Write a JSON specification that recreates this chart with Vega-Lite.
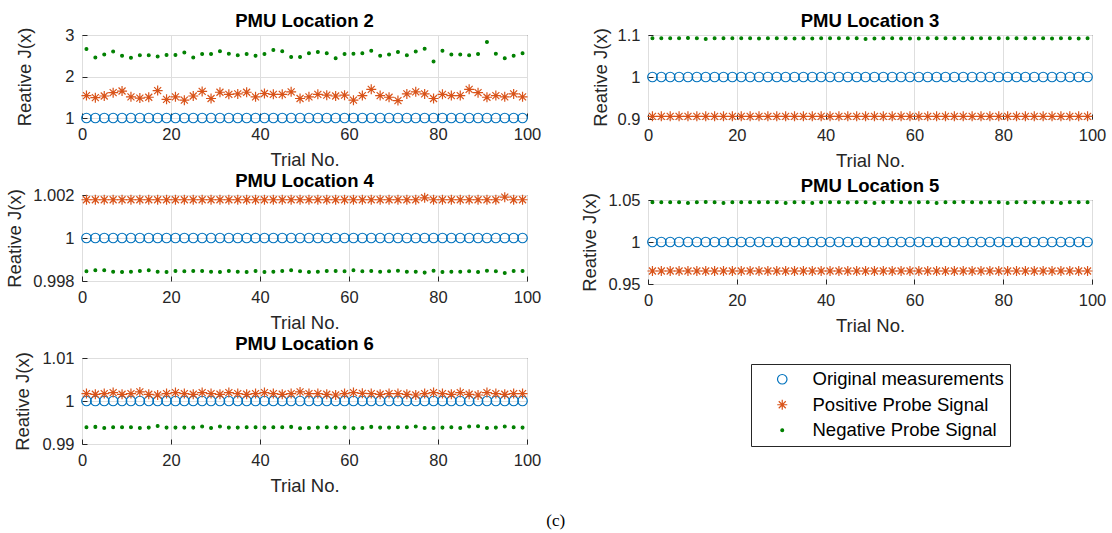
{
"$schema": "https://vega.github.io/schema/vega-lite/v6.json",
"background": "white",
"padding": {"left": 5, "top": 11, "right": 5, "bottom": 5},
"data": {"values": [
{"p":2,"t":1,"o":1,"s":1.54,"n":2.66},{"p":2,"t":3,"o":1,"s":1.49,"n":2.46},{"p":2,"t":5,"o":1,"s":1.53,"n":2.53},{"p":2,"t":7,"o":1,"s":1.61,"n":2.60},{"p":2,"t":9,"o":1,"s":1.65,"n":2.50},
{"p":2,"t":11,"o":1,"s":1.51,"n":2.45},{"p":2,"t":13,"o":1,"s":1.48,"n":2.51},{"p":2,"t":15,"o":1,"s":1.50,"n":2.51},{"p":2,"t":17,"o":1,"s":1.66,"n":2.48},{"p":2,"t":19,"o":1,"s":1.45,"n":2.52},
{"p":2,"t":21,"o":1,"s":1.51,"n":2.52},{"p":2,"t":23,"o":1,"s":1.43,"n":2.58},{"p":2,"t":25,"o":1,"s":1.53,"n":2.46},{"p":2,"t":27,"o":1,"s":1.64,"n":2.54},{"p":2,"t":29,"o":1,"s":1.47,"n":2.54},
{"p":2,"t":31,"o":1,"s":1.62,"n":2.61},{"p":2,"t":33,"o":1,"s":1.57,"n":2.55},{"p":2,"t":35,"o":1,"s":1.58,"n":2.51},{"p":2,"t":37,"o":1,"s":1.62,"n":2.54},{"p":2,"t":39,"o":1,"s":1.51,"n":2.50},
{"p":2,"t":41,"o":1,"s":1.59,"n":2.54},{"p":2,"t":43,"o":1,"s":1.57,"n":2.64},{"p":2,"t":45,"o":1,"s":1.57,"n":2.61},{"p":2,"t":47,"o":1,"s":1.63,"n":2.47},{"p":2,"t":49,"o":1,"s":1.47,"n":2.47},
{"p":2,"t":51,"o":1,"s":1.51,"n":2.56},{"p":2,"t":53,"o":1,"s":1.57,"n":2.59},{"p":2,"t":55,"o":1,"s":1.55,"n":2.56},{"p":2,"t":57,"o":1,"s":1.53,"n":2.44},{"p":2,"t":59,"o":1,"s":1.55,"n":2.54},
{"p":2,"t":61,"o":1,"s":1.43,"n":2.55},{"p":2,"t":63,"o":1,"s":1.54,"n":2.56},{"p":2,"t":65,"o":1,"s":1.69,"n":2.62},{"p":2,"t":67,"o":1,"s":1.54,"n":2.50},{"p":2,"t":69,"o":1,"s":1.50,"n":2.53},
{"p":2,"t":71,"o":1,"s":1.42,"n":2.59},{"p":2,"t":73,"o":1,"s":1.58,"n":2.51},{"p":2,"t":75,"o":1,"s":1.63,"n":2.60},{"p":2,"t":77,"o":1,"s":1.58,"n":2.67},{"p":2,"t":79,"o":1,"s":1.47,"n":2.36},
{"p":2,"t":81,"o":1,"s":1.57,"n":2.62},{"p":2,"t":83,"o":1,"s":1.54,"n":2.53},{"p":2,"t":85,"o":1,"s":1.54,"n":2.53},{"p":2,"t":87,"o":1,"s":1.69,"n":2.51},{"p":2,"t":89,"o":1,"s":1.61,"n":2.54},
{"p":2,"t":91,"o":1,"s":1.50,"n":2.83},{"p":2,"t":93,"o":1,"s":1.54,"n":2.55},{"p":2,"t":95,"o":1,"s":1.51,"n":2.44},{"p":2,"t":97,"o":1,"s":1.58,"n":2.50},{"p":2,"t":99,"o":1,"s":1.51,"n":2.56},
{"p":3,"t":1,"o":1,"s":0.9064,"n":1.092},{"p":3,"t":3,"o":1,"s":0.9064,"n":1.092},{"p":3,"t":5,"o":1,"s":0.9064,"n":1.092},{"p":3,"t":7,"o":1,"s":0.9064,"n":1.092},{"p":3,"t":9,"o":1,"s":0.9064,"n":1.0928},
{"p":3,"t":11,"o":1,"s":0.9064,"n":1.092},{"p":3,"t":13,"o":1,"s":0.9064,"n":1.0907},{"p":3,"t":15,"o":1,"s":0.9064,"n":1.092},{"p":3,"t":17,"o":1,"s":0.9064,"n":1.0924},{"p":3,"t":19,"o":1,"s":0.9064,"n":1.092},
{"p":3,"t":21,"o":1,"s":0.9064,"n":1.092},{"p":3,"t":23,"o":1,"s":0.9064,"n":1.092},{"p":3,"t":25,"o":1,"s":0.9064,"n":1.0916},{"p":3,"t":27,"o":1,"s":0.9064,"n":1.092},{"p":3,"t":29,"o":1,"s":0.9064,"n":1.092},
{"p":3,"t":31,"o":1,"s":0.9064,"n":1.092},{"p":3,"t":33,"o":1,"s":0.9064,"n":1.0916},{"p":3,"t":35,"o":1,"s":0.9064,"n":1.092},{"p":3,"t":37,"o":1,"s":0.9064,"n":1.0916},{"p":3,"t":39,"o":1,"s":0.9064,"n":1.092},
{"p":3,"t":41,"o":1,"s":0.9064,"n":1.092},{"p":3,"t":43,"o":1,"s":0.9064,"n":1.092},{"p":3,"t":45,"o":1,"s":0.9064,"n":1.092},{"p":3,"t":47,"o":1,"s":0.9064,"n":1.0924},{"p":3,"t":49,"o":1,"s":0.9064,"n":1.0907},
{"p":3,"t":51,"o":1,"s":0.9064,"n":1.0916},{"p":3,"t":53,"o":1,"s":0.9064,"n":1.092},{"p":3,"t":55,"o":1,"s":0.9064,"n":1.0924},{"p":3,"t":57,"o":1,"s":0.9064,"n":1.0916},{"p":3,"t":59,"o":1,"s":0.9064,"n":1.0916},
{"p":3,"t":61,"o":1,"s":0.9064,"n":1.0916},{"p":3,"t":63,"o":1,"s":0.9064,"n":1.092},{"p":3,"t":65,"o":1,"s":0.9064,"n":1.0924},{"p":3,"t":67,"o":1,"s":0.9064,"n":1.092},{"p":3,"t":69,"o":1,"s":0.9064,"n":1.092},
{"p":3,"t":71,"o":1,"s":0.9064,"n":1.092},{"p":3,"t":73,"o":1,"s":0.9064,"n":1.0924},{"p":3,"t":75,"o":1,"s":0.9064,"n":1.092},{"p":3,"t":77,"o":1,"s":0.9064,"n":1.0924},{"p":3,"t":79,"o":1,"s":0.9064,"n":1.092},
{"p":3,"t":81,"o":1,"s":0.9064,"n":1.092},{"p":3,"t":83,"o":1,"s":0.9064,"n":1.092},{"p":3,"t":85,"o":1,"s":0.9064,"n":1.092},{"p":3,"t":87,"o":1,"s":0.9064,"n":1.092},{"p":3,"t":89,"o":1,"s":0.9064,"n":1.092},
{"p":3,"t":91,"o":1,"s":0.9064,"n":1.0916},{"p":3,"t":93,"o":1,"s":0.9064,"n":1.092},{"p":3,"t":95,"o":1,"s":0.9064,"n":1.0924},{"p":3,"t":97,"o":1,"s":0.9064,"n":1.0916},{"p":3,"t":99,"o":1,"s":0.9064,"n":1.092},
{"p":4,"t":1,"o":1,"s":1.00178,"n":0.99845},{"p":4,"t":3,"o":1,"s":1.00178,"n":0.9985},{"p":4,"t":5,"o":1,"s":1.00178,"n":0.9985},{"p":4,"t":7,"o":1,"s":1.00178,"n":0.99843},{"p":4,"t":9,"o":1,"s":1.00178,"n":0.99842},
{"p":4,"t":11,"o":1,"s":1.00178,"n":0.99843},{"p":4,"t":13,"o":1,"s":1.00178,"n":0.99847},{"p":4,"t":15,"o":1,"s":1.00178,"n":0.9985},{"p":4,"t":17,"o":1,"s":1.00178,"n":0.99843},{"p":4,"t":19,"o":1,"s":1.00178,"n":0.99842},
{"p":4,"t":21,"o":1,"s":1.00178,"n":0.99847},{"p":4,"t":23,"o":1,"s":1.00178,"n":0.99845},{"p":4,"t":25,"o":1,"s":1.00178,"n":0.99847},{"p":4,"t":27,"o":1,"s":1.00178,"n":0.99847},{"p":4,"t":29,"o":1,"s":1.00178,"n":0.99843},
{"p":4,"t":31,"o":1,"s":1.00178,"n":0.99842},{"p":4,"t":33,"o":1,"s":1.00178,"n":0.99847},{"p":4,"t":35,"o":1,"s":1.00178,"n":0.99843},{"p":4,"t":37,"o":1,"s":1.00178,"n":0.99842},{"p":4,"t":39,"o":1,"s":1.00178,"n":0.99847},
{"p":4,"t":41,"o":1,"s":1.00178,"n":0.99842},{"p":4,"t":43,"o":1,"s":1.00178,"n":0.99843},{"p":4,"t":45,"o":1,"s":1.00178,"n":0.99847},{"p":4,"t":47,"o":1,"s":1.00178,"n":0.9985},{"p":4,"t":49,"o":1,"s":1.00178,"n":0.99845},
{"p":4,"t":51,"o":1,"s":1.00178,"n":0.99842},{"p":4,"t":53,"o":1,"s":1.00178,"n":0.99843},{"p":4,"t":55,"o":1,"s":1.00178,"n":0.99847},{"p":4,"t":57,"o":1,"s":1.00178,"n":0.99847},{"p":4,"t":59,"o":1,"s":1.00178,"n":0.99845},
{"p":4,"t":61,"o":1,"s":1.00178,"n":0.9985},{"p":4,"t":63,"o":1,"s":1.00178,"n":0.99845},{"p":4,"t":65,"o":1,"s":1.00178,"n":0.99847},{"p":4,"t":67,"o":1,"s":1.00178,"n":0.99843},{"p":4,"t":69,"o":1,"s":1.00178,"n":0.99845},
{"p":4,"t":71,"o":1,"s":1.00178,"n":0.99848},{"p":4,"t":73,"o":1,"s":1.00178,"n":0.99843},{"p":4,"t":75,"o":1,"s":1.00178,"n":0.99843},{"p":4,"t":77,"o":1,"s":1.00187,"n":0.99839},{"p":4,"t":79,"o":1,"s":1.00178,"n":0.99848},
{"p":4,"t":81,"o":1,"s":1.00178,"n":0.99842},{"p":4,"t":83,"o":1,"s":1.00178,"n":0.99843},{"p":4,"t":85,"o":1,"s":1.00178,"n":0.99843},{"p":4,"t":87,"o":1,"s":1.00178,"n":0.99845},{"p":4,"t":89,"o":1,"s":1.00178,"n":0.99842},
{"p":4,"t":91,"o":1,"s":1.00178,"n":0.99848},{"p":4,"t":93,"o":1,"s":1.00178,"n":0.99845},{"p":4,"t":95,"o":1,"s":1.0019,"n":0.99837},{"p":4,"t":97,"o":1,"s":1.00178,"n":0.99847},{"p":4,"t":99,"o":1,"s":1.00178,"n":0.99847},
{"p":5,"t":1,"o":1,"s":0.9655,"n":1.0473},{"p":5,"t":3,"o":1,"s":0.9655,"n":1.0473},{"p":5,"t":5,"o":1,"s":0.9655,"n":1.0473},{"p":5,"t":7,"o":1,"s":0.9655,"n":1.0473},{"p":5,"t":9,"o":1,"s":0.9655,"n":1.0465},
{"p":5,"t":11,"o":1,"s":0.9655,"n":1.0473},{"p":5,"t":13,"o":1,"s":0.9655,"n":1.0477},{"p":5,"t":15,"o":1,"s":0.9655,"n":1.0473},{"p":5,"t":17,"o":1,"s":0.9655,"n":1.0465},{"p":5,"t":19,"o":1,"s":0.9655,"n":1.0473},
{"p":5,"t":21,"o":1,"s":0.9655,"n":1.0473},{"p":5,"t":23,"o":1,"s":0.9655,"n":1.0473},{"p":5,"t":25,"o":1,"s":0.9655,"n":1.0473},{"p":5,"t":27,"o":1,"s":0.9655,"n":1.0473},{"p":5,"t":29,"o":1,"s":0.9655,"n":1.0473},
{"p":5,"t":31,"o":1,"s":0.9655,"n":1.0465},{"p":5,"t":33,"o":1,"s":0.9655,"n":1.0473},{"p":5,"t":35,"o":1,"s":0.9655,"n":1.0473},{"p":5,"t":37,"o":1,"s":0.9655,"n":1.0465},{"p":5,"t":39,"o":1,"s":0.9655,"n":1.0473},
{"p":5,"t":41,"o":1,"s":0.9655,"n":1.0473},{"p":5,"t":43,"o":1,"s":0.9655,"n":1.0473},{"p":5,"t":45,"o":1,"s":0.9655,"n":1.0469},{"p":5,"t":47,"o":1,"s":0.9655,"n":1.0473},{"p":5,"t":49,"o":1,"s":0.9655,"n":1.0473},
{"p":5,"t":51,"o":1,"s":0.9655,"n":1.0465},{"p":5,"t":53,"o":1,"s":0.9655,"n":1.0473},{"p":5,"t":55,"o":1,"s":0.9655,"n":1.0477},{"p":5,"t":57,"o":1,"s":0.9655,"n":1.0473},{"p":5,"t":59,"o":1,"s":0.9655,"n":1.0469},
{"p":5,"t":61,"o":1,"s":0.9655,"n":1.0473},{"p":5,"t":63,"o":1,"s":0.9655,"n":1.0473},{"p":5,"t":65,"o":1,"s":0.9655,"n":1.0465},{"p":5,"t":67,"o":1,"s":0.9655,"n":1.0473},{"p":5,"t":69,"o":1,"s":0.9655,"n":1.0473},
{"p":5,"t":71,"o":1,"s":0.9655,"n":1.0477},{"p":5,"t":73,"o":1,"s":0.9655,"n":1.0473},{"p":5,"t":75,"o":1,"s":0.9655,"n":1.0469},{"p":5,"t":77,"o":1,"s":0.9655,"n":1.0473},{"p":5,"t":79,"o":1,"s":0.9655,"n":1.0473},
{"p":5,"t":81,"o":1,"s":0.9655,"n":1.0465},{"p":5,"t":83,"o":1,"s":0.9655,"n":1.0473},{"p":5,"t":85,"o":1,"s":0.9655,"n":1.0473},{"p":5,"t":87,"o":1,"s":0.9655,"n":1.0473},{"p":5,"t":89,"o":1,"s":0.9655,"n":1.0469},
{"p":5,"t":91,"o":1,"s":0.9655,"n":1.0473},{"p":5,"t":93,"o":1,"s":0.9655,"n":1.0465},{"p":5,"t":95,"o":1,"s":0.9655,"n":1.0473},{"p":5,"t":97,"o":1,"s":0.9655,"n":1.0473},{"p":5,"t":99,"o":1,"s":0.9655,"n":1.0473},
{"p":6,"t":1,"o":1,"s":1.00172,"n":0.99389},{"p":6,"t":3,"o":1,"s":1.00156,"n":0.99398},{"p":6,"t":5,"o":1,"s":1.00172,"n":0.99374},{"p":6,"t":7,"o":1,"s":1.00195,"n":0.99389},{"p":6,"t":9,"o":1,"s":1.00156,"n":0.99389},
{"p":6,"t":11,"o":1,"s":1.00172,"n":0.99389},{"p":6,"t":13,"o":1,"s":1.00211,"n":0.99374},{"p":6,"t":15,"o":1,"s":1.00156,"n":0.99381},{"p":6,"t":17,"o":1,"s":1.0014,"n":0.99421},{"p":6,"t":19,"o":1,"s":1.00172,"n":0.99381},
{"p":6,"t":21,"o":1,"s":1.00195,"n":0.99381},{"p":6,"t":23,"o":1,"s":1.00172,"n":0.99381},{"p":6,"t":25,"o":1,"s":1.00156,"n":0.99381},{"p":6,"t":27,"o":1,"s":1.00195,"n":0.99405},{"p":6,"t":29,"o":1,"s":1.00172,"n":0.99374},
{"p":6,"t":31,"o":1,"s":1.00156,"n":0.99405},{"p":6,"t":33,"o":1,"s":1.00195,"n":0.99381},{"p":6,"t":35,"o":1,"s":1.00172,"n":0.99381},{"p":6,"t":37,"o":1,"s":1.00156,"n":0.99389},{"p":6,"t":39,"o":1,"s":1.00172,"n":0.99389},
{"p":6,"t":41,"o":1,"s":1.00195,"n":0.99381},{"p":6,"t":43,"o":1,"s":1.00172,"n":0.99389},{"p":6,"t":45,"o":1,"s":1.00156,"n":0.99389},{"p":6,"t":47,"o":1,"s":1.00172,"n":0.99398},{"p":6,"t":49,"o":1,"s":1.00211,"n":0.99366},
{"p":6,"t":51,"o":1,"s":1.00172,"n":0.99374},{"p":6,"t":53,"o":1,"s":1.00172,"n":0.99381},{"p":6,"t":55,"o":1,"s":1.00156,"n":0.99389},{"p":6,"t":57,"o":1,"s":1.0014,"n":0.99381},{"p":6,"t":59,"o":1,"s":1.00172,"n":0.99381},
{"p":6,"t":61,"o":1,"s":1.00195,"n":0.99366},{"p":6,"t":63,"o":1,"s":1.00179,"n":0.99374},{"p":6,"t":65,"o":1,"s":1.00172,"n":0.99398},{"p":6,"t":67,"o":1,"s":1.00156,"n":0.99381},{"p":6,"t":69,"o":1,"s":1.00172,"n":0.99381},
{"p":6,"t":71,"o":1,"s":1.00172,"n":0.99389},{"p":6,"t":73,"o":1,"s":1.00156,"n":0.99389},{"p":6,"t":75,"o":1,"s":1.0014,"n":0.99405},{"p":6,"t":77,"o":1,"s":1.00172,"n":0.99374},{"p":6,"t":79,"o":1,"s":1.00195,"n":0.99374},
{"p":6,"t":81,"o":1,"s":1.00172,"n":0.99381},{"p":6,"t":83,"o":1,"s":1.00156,"n":0.99389},{"p":6,"t":85,"o":1,"s":1.00195,"n":0.99374},{"p":6,"t":87,"o":1,"s":1.00156,"n":0.99405},{"p":6,"t":89,"o":1,"s":1.0014,"n":0.99413},
{"p":6,"t":91,"o":1,"s":1.00195,"n":0.99374},{"p":6,"t":93,"o":1,"s":1.00172,"n":0.99381},{"p":6,"t":95,"o":1,"s":1.00156,"n":0.99405},{"p":6,"t":97,"o":1,"s":1.00172,"n":0.99389},{"p":6,"t":99,"o":1,"s":1.00172,"n":0.99381}
]},
"transform": [
{"fold": ["o","s","n"], "as": ["k","v"]},
{"lookup": "k", "from": {"data": {"values": [{"k":"o","name":"Original measurements"},{"k":"s","name":"Positive Probe Signal"},{"k":"n","name":"Negative Probe Signal"}]}, "key": "k", "fields": ["name"]}}
],
"hconcat": [
{"vconcat": [
{"title": "PMU Location 2", "width": 445, "height": 83, "transform": [{"filter": "datum.p == 2"}], "mark": {"type": "point", "strokeWidth": 1.2, "opacity": 1},
"encoding": {
"x": {"field": "t", "type": "quantitative", "title": "Trial No.", "scale": {"domain": [0,100]}, "axis": {"values": [0,20,40,60,80,100]}},
"y": {"field": "v", "type": "quantitative", "title": "Reative J(x)", "scale": {"domain": [1,3]}, "axis": {"values": [1,2,3], "format": "~g", "titlePadding": 30}},
"shape": {"field": "name", "type": "nominal", "title": null, "scale": {"domain": ["Original measurements","Positive Probe Signal","Negative Probe Signal"], "range": ["circle","M0,-1L0,1M-1,0L1,0M-0.7,-0.7L0.7,0.7M-0.7,0.7L0.7,-0.7","circle"]}},
"stroke": {"field": "name", "type": "nominal", "title": null, "scale": {"domain": ["Original measurements","Positive Probe Signal","Negative Probe Signal"], "range": ["#0072BD","#D95319","#008000"]}},
"fill": {"field": "name", "type": "nominal", "title": null, "scale": {"domain": ["Original measurements","Positive Probe Signal","Negative Probe Signal"], "range": ["transparent","transparent","#008000"]}},
"size": {"field": "name", "type": "nominal", "title": null, "scale": {"type": "ordinal", "domain": ["Original measurements","Positive Probe Signal","Negative Probe Signal"], "range": [90,100,8]}}
}},
{"title": "PMU Location 4", "width": 445, "height": 86, "transform": [{"filter": "datum.p == 4"}], "mark": {"type": "point", "strokeWidth": 1.2, "opacity": 1},
"encoding": {
"x": {"field": "t", "type": "quantitative", "title": "Trial No.", "scale": {"domain": [0,100]}, "axis": {"values": [0,20,40,60,80,100]}},
"y": {"field": "v", "type": "quantitative", "title": "Reative J(x)", "scale": {"domain": [0.998,1.002]}, "axis": {"values": [0.998,1,1.002], "format": "~g", "titlePadding": 8}},
"shape": {"field": "name", "type": "nominal", "title": null, "scale": {"domain": ["Original measurements","Positive Probe Signal","Negative Probe Signal"], "range": ["circle","M0,-1L0,1M-1,0L1,0M-0.7,-0.7L0.7,0.7M-0.7,0.7L0.7,-0.7","circle"]}},
"stroke": {"field": "name", "type": "nominal", "title": null, "scale": {"domain": ["Original measurements","Positive Probe Signal","Negative Probe Signal"], "range": ["#0072BD","#D95319","#008000"]}},
"fill": {"field": "name", "type": "nominal", "title": null, "scale": {"domain": ["Original measurements","Positive Probe Signal","Negative Probe Signal"], "range": ["transparent","transparent","#008000"]}},
"size": {"field": "name", "type": "nominal", "title": null, "scale": {"type": "ordinal", "domain": ["Original measurements","Positive Probe Signal","Negative Probe Signal"], "range": [90,100,8]}}
}},
{"title": "PMU Location 6", "width": 445, "height": 86, "transform": [{"filter": "datum.p == 6"}], "mark": {"type": "point", "strokeWidth": 1.2, "opacity": 1},
"encoding": {
"x": {"field": "t", "type": "quantitative", "title": "Trial No.", "scale": {"domain": [0,100]}, "axis": {"values": [0,20,40,60,80,100]}},
"y": {"field": "v", "type": "quantitative", "title": "Reative J(x)", "scale": {"domain": [0.99,1.01]}, "axis": {"values": [0.99,1,1.01], "format": "~g", "titlePadding": 9}},
"shape": {"field": "name", "type": "nominal", "title": null, "scale": {"domain": ["Original measurements","Positive Probe Signal","Negative Probe Signal"], "range": ["circle","M0,-1L0,1M-1,0L1,0M-0.7,-0.7L0.7,0.7M-0.7,0.7L0.7,-0.7","circle"]}},
"stroke": {"field": "name", "type": "nominal", "title": null, "scale": {"domain": ["Original measurements","Positive Probe Signal","Negative Probe Signal"], "range": ["#0072BD","#D95319","#008000"]}},
"fill": {"field": "name", "type": "nominal", "title": null, "scale": {"domain": ["Original measurements","Positive Probe Signal","Negative Probe Signal"], "range": ["transparent","transparent","#008000"]}},
"size": {"field": "name", "type": "nominal", "title": null, "scale": {"type": "ordinal", "domain": ["Original measurements","Positive Probe Signal","Negative Probe Signal"], "range": [90,100,8]}}
}}
], "spacing": 1, "resolve": {"scale": {"x": "independent", "y": "independent"}}},
{"vconcat": [
{"title": "PMU Location 3", "width": 444, "height": 84, "transform": [{"filter": "datum.p == 3"}], "mark": {"type": "point", "strokeWidth": 1.2, "opacity": 1},
"encoding": {
"x": {"field": "t", "type": "quantitative", "title": "Trial No.", "scale": {"domain": [0,100]}, "axis": {"values": [0,20,40,60,80,100]}},
"y": {"field": "v", "type": "quantitative", "title": "Reative J(x)", "scale": {"domain": [0.9,1.1]}, "axis": {"values": [0.9,1,1.1], "format": "~g", "titlePadding": 7}},
"shape": {"field": "name", "type": "nominal", "title": null, "scale": {"domain": ["Original measurements","Positive Probe Signal","Negative Probe Signal"], "range": ["circle","M0,-1L0,1M-1,0L1,0M-0.7,-0.7L0.7,0.7M-0.7,0.7L0.7,-0.7","circle"]}},
"stroke": {"field": "name", "type": "nominal", "title": null, "scale": {"domain": ["Original measurements","Positive Probe Signal","Negative Probe Signal"], "range": ["#0072BD","#D95319","#008000"]}},
"fill": {"field": "name", "type": "nominal", "title": null, "scale": {"domain": ["Original measurements","Positive Probe Signal","Negative Probe Signal"], "range": ["transparent","transparent","#008000"]}},
"size": {"field": "name", "type": "nominal", "title": null, "scale": {"type": "ordinal", "domain": ["Original measurements","Positive Probe Signal","Negative Probe Signal"], "range": [90,100,8]}}
}},
{"title": "PMU Location 5", "width": 444, "height": 84, "transform": [{"filter": "datum.p == 5"}], "mark": {"type": "point", "strokeWidth": 1.2, "opacity": 1},
"encoding": {
"x": {"field": "t", "type": "quantitative", "title": "Trial No.", "scale": {"domain": [0,100]}, "axis": {"values": [0,20,40,60,80,100]}},
"y": {"field": "v", "type": "quantitative", "title": "Reative J(x)", "scale": {"domain": [0.95,1.05]}, "axis": {"values": [0.95,1,1.05], "format": "~g", "titlePadding": 8}},
"shape": {"field": "name", "type": "nominal", "title": null, "scale": {"domain": ["Original measurements","Positive Probe Signal","Negative Probe Signal"], "range": ["circle","M0,-1L0,1M-1,0L1,0M-0.7,-0.7L0.7,0.7M-0.7,0.7L0.7,-0.7","circle"]}},
"stroke": {"field": "name", "type": "nominal", "title": null, "scale": {"domain": ["Original measurements","Positive Probe Signal","Negative Probe Signal"], "range": ["#0072BD","#D95319","#008000"]}},
"fill": {"field": "name", "type": "nominal", "title": null, "scale": {"domain": ["Original measurements","Positive Probe Signal","Negative Probe Signal"], "range": ["transparent","transparent","#008000"]}},
"size": {"field": "name", "type": "nominal", "title": null, "scale": {"type": "ordinal", "domain": ["Original measurements","Positive Probe Signal","Negative Probe Signal"], "range": [90,100,8]}}
}}
], "spacing": 5, "resolve": {"scale": {"x": "independent", "y": "independent"}}}
],
"spacing": 38,
"resolve": {"scale": {"x": "independent", "y": "independent"}},
"title": {"text": "(c)", "orient": "bottom", "font": "Liberation Serif", "fontSize": 17, "fontWeight": "normal", "color": "#000", "anchor": "middle", "offset": 17},
"config": {
"font": "Liberation Sans",
"view": {"stroke": "#262626", "strokeWidth": 1},
"axis": {"domain": false, "grid": true, "gridColor": "#dedede", "gridWidth": 1, "ticks": true, "tickColor": "#262626", "tickSize": -5, "labelPadding": 18, "labelFont": "Liberation Sans", "labelFontSize": 16.5, "labelColor": "#262626", "labelFlush": false, "labelOverlap": false, "titleFont": "Liberation Sans", "titleFontSize": 18.5, "titleFontWeight": "normal", "titleColor": "#262626"},
"axisX": {"labelPadding": 13, "titlePadding": 8},
"axisY": {"labelPadding": 13},
"title": {"font": "Liberation Sans", "fontSize": 18.5, "fontWeight": "bold", "color": "#000", "offset": -3},
"legend": {"orient": "none", "legendX": 669, "legendY": 329, "strokeColor": "#262626", "fillColor": "white", "padding": 6, "symbolOffset": 16, "labelOffset": 21, "labelFont": "Liberation Sans", "labelFontSize": 18.5, "labelColor": "#000", "rowPadding": 6.5, "symbolStrokeWidth": 1.2, "labelLimit": 400}
}
}
